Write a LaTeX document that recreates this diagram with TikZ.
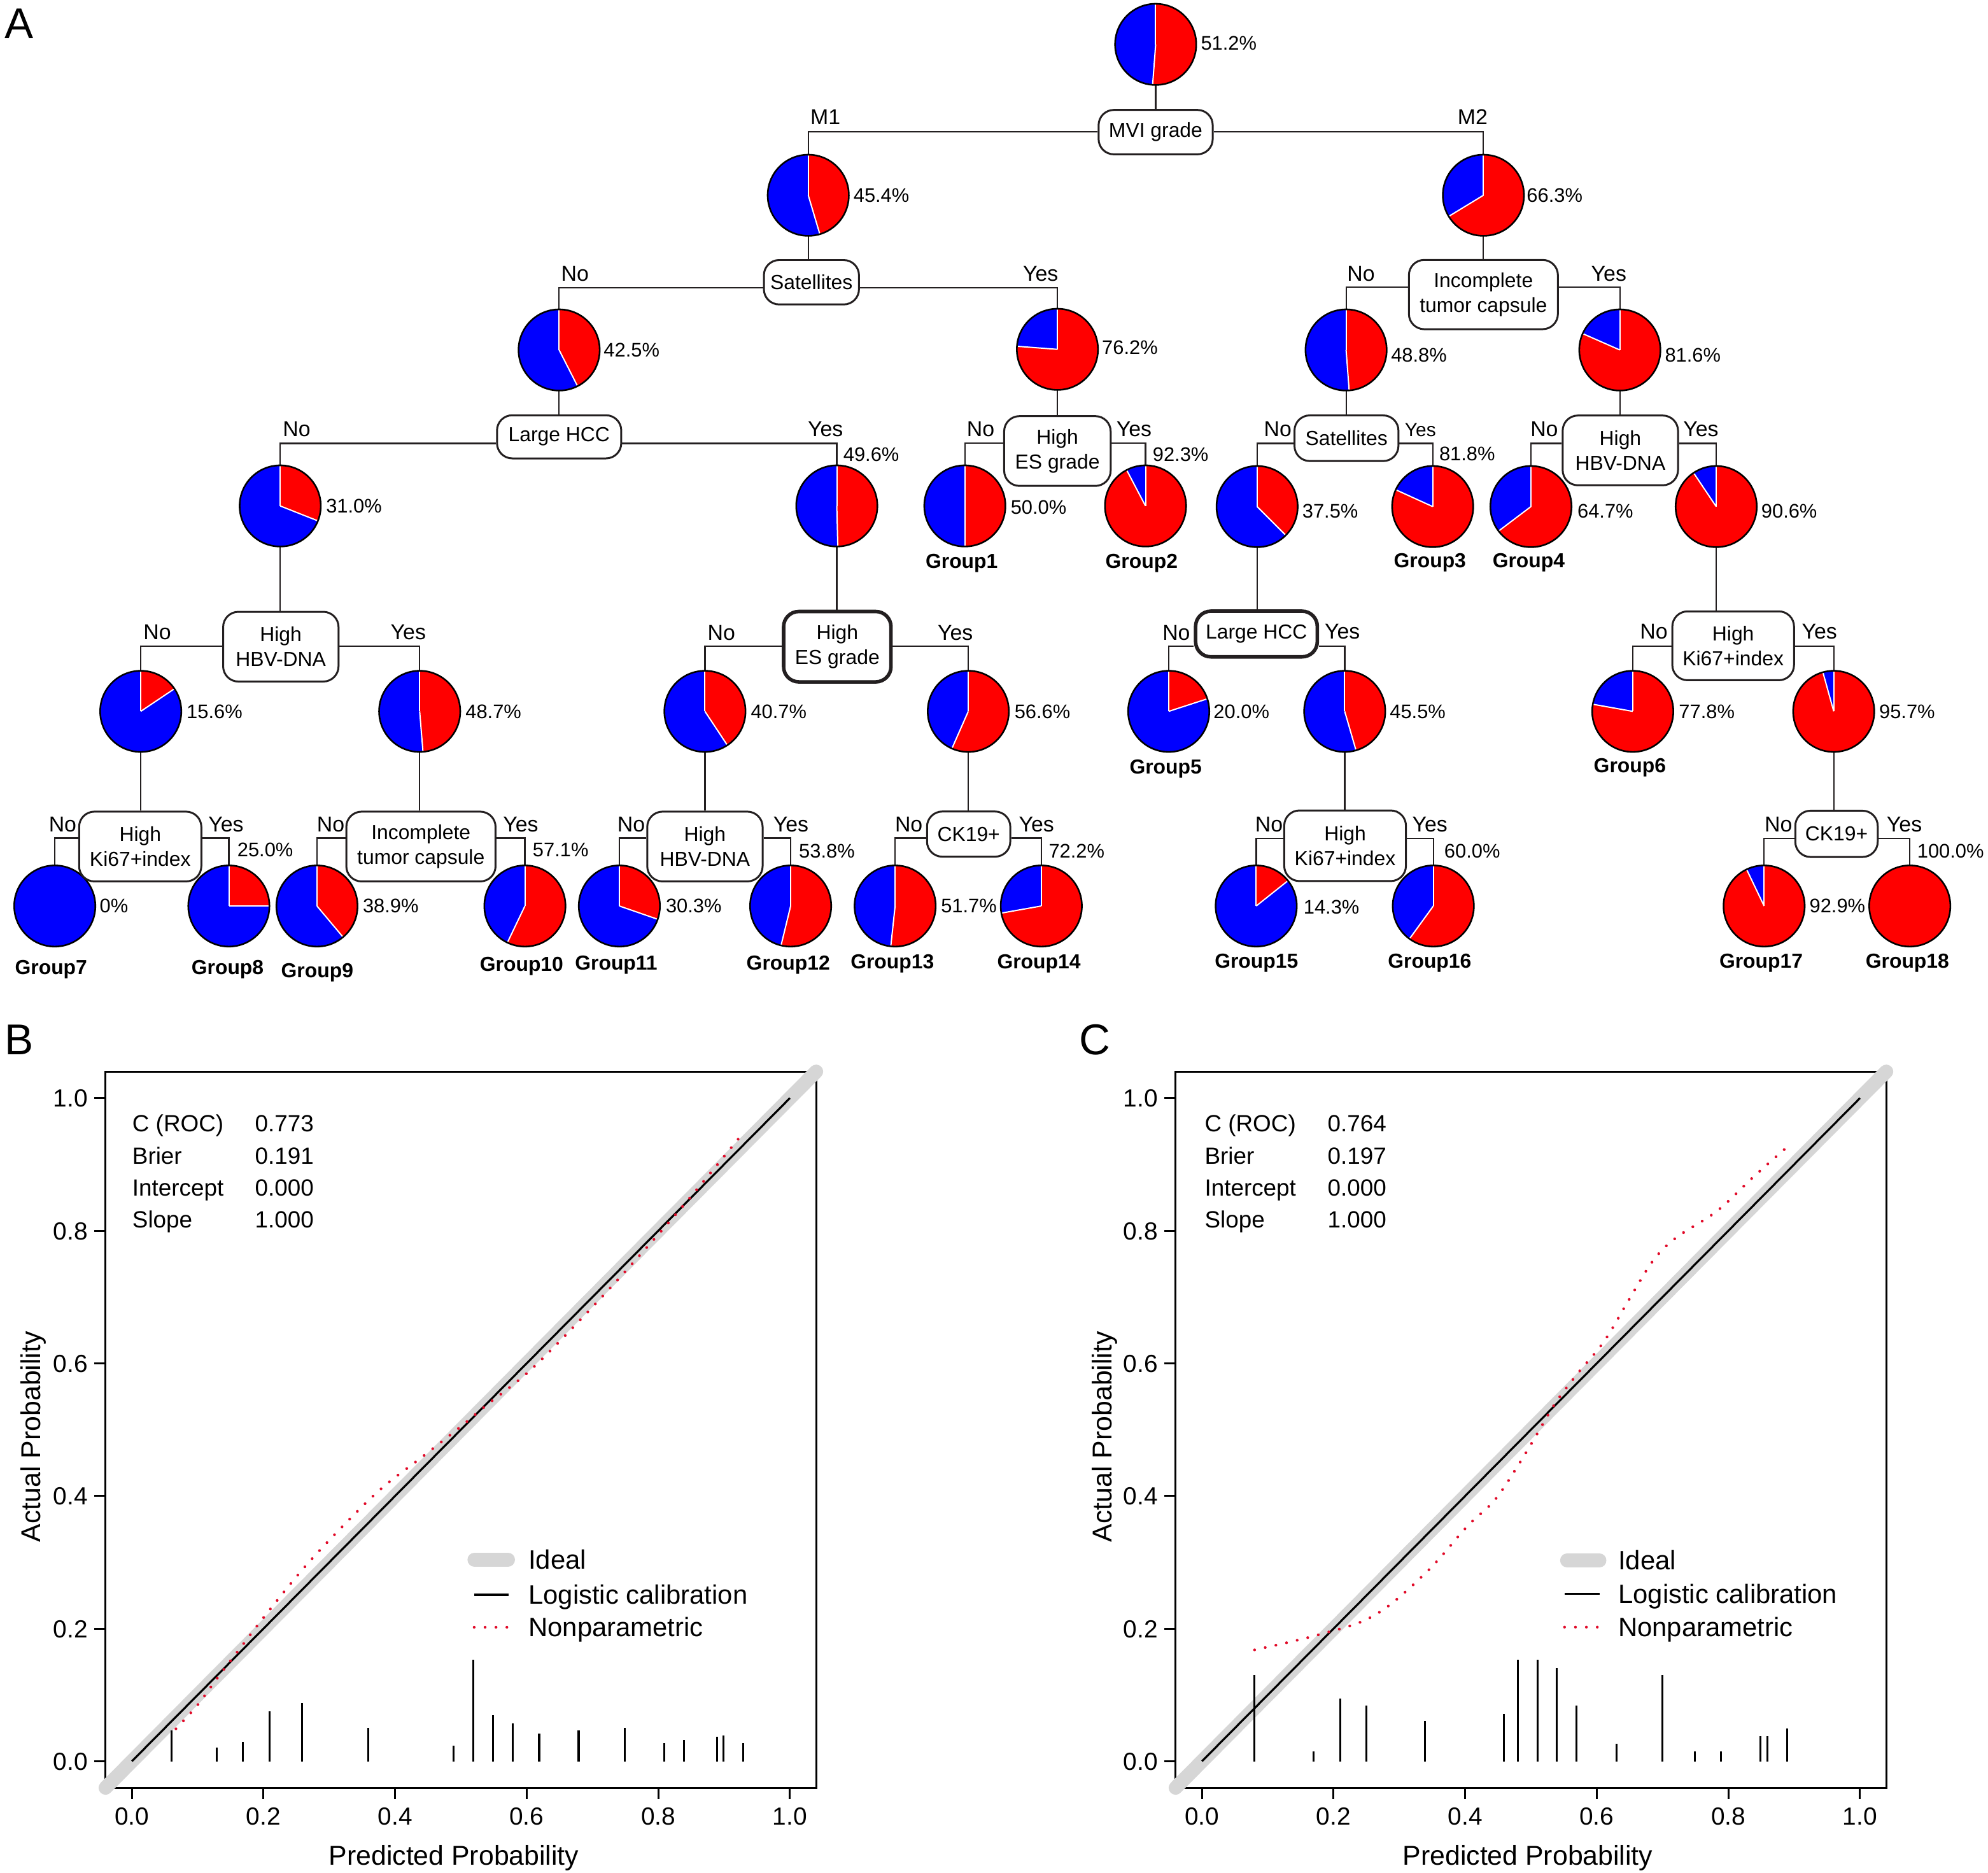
\documentclass[tikz,border=0pt]{standalone}
\usepackage{fontspec}
\setmainfont{Liberation Sans}
\pgfdeclarelayer{bg}
\pgfsetlayers{bg,main}
\definecolor{pieblue}{RGB}{0,0,255}
\definecolor{piered}{RGB}{255,0,0}
\definecolor{ink}{RGB}{35,31,32}
\definecolor{idealgray}{RGB}{214,214,214}
\definecolor{npred}{RGB}{225,10,40}

\tikzset{
  pienode/.style={circle, minimum size=64pt, inner sep=0pt},
  conn/.style={draw=ink, line width=1.1pt},
  dbox/.style={draw=ink, line width=1.5pt, fill=white, rounded corners=12pt, align=center, inner sep=0pt, font=\fontsize{16}{19.5}\selectfont},
  thickbox/.style={dbox, line width=2.8pt},
  pct/.style={font=\fontsize{15.5}{18}\selectfont, inner sep=0pt, text height=11.1pt, text depth=0pt},
  yn/.style={font=\fontsize{17}{20}\selectfont, inner sep=0pt, text height=12.2pt, text depth=0pt},
  ynsmall/.style={font=\fontsize{15}{18}\selectfont, inner sep=0pt, text height=10.7pt, text depth=0pt},
  grp/.style={font=\fontsize{16}{19}\selectfont\bfseries, inner sep=0pt, text height=11.5pt, text depth=0pt},
  ideal/.style={draw=idealgray, line width=11pt, line cap=round},
  logi/.style={draw=black, line width=1.6pt},
  nonpar/.style={draw=npred, line width=2.2pt, line cap=round, dash pattern=on 0pt off 8.6pt},
  spike/.style={draw=black, line width=1.6pt},
  axisln/.style={draw=black, line width=1.6pt},
  ticklab/.style={font=\fontsize{19.5}{22}\selectfont, inner sep=0pt, text height=14pt, text depth=0pt},
  stat/.style={font=\fontsize{18.5}{21}\selectfont, inner sep=0pt, text height=13.2pt, text depth=0pt, anchor=west},
  legtxt/.style={font=\fontsize{21}{24}\selectfont, inner sep=0pt, text height=15pt, text depth=0pt, anchor=west},
  axtitle/.style={font=\fontsize{21.5}{24}\selectfont, inner sep=0pt, text height=15.4pt, text depth=0pt},
  panel/.style={font=\fontsize{34}{38}\selectfont, inner sep=0pt, text height=24.4pt, text depth=0pt}
}

\newcommand{\mypie}[4]{%
  \node[pienode] (#1) at (#2,-#3) {};
  \fill[pieblue] (#1.center) circle[radius=32pt];
  \ifdim #4pt>0pt
    \fill[piered] (#1.center) -- ++(90:32pt) arc[start angle=90, end angle={90-3.6*#4}, radius=32pt] -- cycle;
    \ifdim #4pt<100pt
      \draw[white, line width=1pt] (#1.center) -- ++(90:31.5pt);
      \draw[white, line width=1pt] (#1.center) -- ++({90-3.6*#4}:31.5pt);
    \fi
  \fi
  \draw[black, line width=1.3pt] (#1.center) circle[radius=32pt];
}
\newcommand{\lab}[5]{\node[#2] (#1) at (#3,-#4) {#5};}

\begin{document}
\begin{tikzpicture}[x=1pt, y=1pt]
\useasboundingbox (0,0) rectangle (1568,-1477);

% ---------------- Panel letters
\lab{pA}{panel}{15}{18}{A}
\lab{pB}{panel}{15}{819.5}{B}
\lab{pC}{panel}{863.5}{819.5}{C}

% ---------------- Pies
\mypie{p0}{911.5}{35}{51.2}
\mypie{p1}{637.5}{154}{45.4}
\mypie{p2}{1170}{154}{66.3}
\mypie{p3}{441}{276}{42.5}
\mypie{p4}{834}{275.5}{76.2}
\mypie{p5}{1061.7}{276}{48.8}
\mypie{p6}{1277.6}{276}{81.6}
\mypie{p7}{221}{399}{31.0}
\mypie{p8}{660}{399}{49.6}
\mypie{g1}{761}{399}{50.0}
\mypie{g2}{903.5}{399}{92.3}
\mypie{p9}{991.5}{399.5}{37.5}
\mypie{g3}{1130}{399.5}{81.8}
\mypie{g4}{1207.5}{399.5}{64.7}
\mypie{p10}{1353.6}{399.5}{90.6}
\mypie{p11}{111}{561}{15.6}
\mypie{p12}{331}{561}{48.7}
\mypie{p13}{556}{561}{40.7}
\mypie{p14}{763.7}{561}{56.6}
\mypie{g5}{921.8}{561}{20.0}
\mypie{p15}{1060.6}{561}{45.5}
\mypie{g6}{1287.8}{561}{77.8}
\mypie{p16}{1446.3}{561}{95.7}
\mypie{g7}{43.2}{714.5}{0}
\mypie{g8}{180.5}{714.5}{25.0}
\mypie{g9}{250}{714.5}{38.9}
\mypie{g10}{414}{714.5}{57.1}
\mypie{g11}{488.5}{714.5}{30.3}
\mypie{g12}{623.6}{714.5}{53.8}
\mypie{g13}{706}{714.5}{51.7}
\mypie{g14}{821.3}{714.5}{72.2}
\mypie{g15}{990.8}{714.5}{14.3}
\mypie{g16}{1130.5}{714.5}{60.0}
\mypie{g17}{1391.4}{714.5}{92.9}
\mypie{g18}{1506.3}{714.5}{100}

% ---------------- Boxes
\node[dbox, minimum width=90pt, minimum height=35pt] (b1) at (911.5,-104.2) {MVI grade};
\node[dbox, minimum width=75pt, minimum height=35pt] (b2) at (640,-222.6) {Satellites};
\node[dbox, minimum width=117.5pt, minimum height=54.6pt] (b3) at (1170,-232.3) {Incomplete\\tumor capsule};
\node[dbox, minimum width=98pt, minimum height=34pt] (b4) at (441,-344.5) {Large HCC};
\node[dbox, minimum width=84pt, minimum height=55pt] (b5) at (834,-355.7) {High\\ES grade};
\node[dbox, minimum width=82pt, minimum height=36pt] (b6) at (1062,-345.6) {Satellites};
\node[dbox, minimum width=91pt, minimum height=55pt] (b7) at (1278,-355.2) {High\\HBV-DNA};
\node[dbox, minimum width=91pt, minimum height=55pt] (b8) at (221.5,-510) {High\\HBV-DNA};
\node[thickbox, minimum width=84.7pt, minimum height=55.5pt] (b9) at (660.4,-510) {High\\ES grade};
\node[thickbox, minimum width=96pt, minimum height=36pt] (b10) at (991,-500) {Large HCC};
\node[dbox, minimum width=96pt, minimum height=54.3pt] (b11) at (1367,-509.3) {High\\Ki67+index};
\node[dbox, minimum width=96.4pt, minimum height=55pt] (b12) at (110.6,-667.6) {High\\Ki67+index};
\node[dbox, minimum width=117.7pt, minimum height=55pt] (b13) at (332,-667.6) {Incomplete\\tumor capsule};
\node[dbox, minimum width=91pt, minimum height=55pt] (b14) at (556,-667.6) {High\\HBV-DNA};
\node[dbox, minimum width=65.7pt, minimum height=35.6pt] (b15) at (764,-657.8) {CK19+};
\node[dbox, minimum width=96pt, minimum height=55.7pt] (b16) at (1060.9,-667) {High\\Ki67+index};
\node[dbox, minimum width=65pt, minimum height=36.5pt] (b17) at (1448.5,-657.6) {CK19+};

% ---------------- Connectors
\begin{pgfonlayer}{bg}
\draw[conn] (p0.south) -- (p0.south |- b1.north);
\draw[conn] (b1.west |- 0,-103.8) -| (p1.north);
\draw[conn] (b1.east |- 0,-103.8) -| (p2.north);
\draw[conn] (p1.south) -- (p1.south |- b2.north);
\draw[conn] (b2.west |- 0,-226.8) -| (p3.north);
\draw[conn] (b2.east |- 0,-226.8) -| (p4.north);
\draw[conn] (p2.south) -- (p2.south |- b3.north);
\draw[conn] (b3.west |- 0,-226.6) -| (p5.north);
\draw[conn] (b3.east |- 0,-226.6) -| (p6.north);
\draw[conn] (p3.south) -- (p3.south |- b4.north);
\draw[conn] (b4.west |- 0,-349.7) -| (p7.north);
\draw[conn] (b4.east |- 0,-349.7) -| (p8.north);
\draw[conn] (p4.south) -- (p4.south |- b5.north);
\draw[conn] (b5.west |- 0,-349.5) -| (g1.north);
\draw[conn] (b5.east |- 0,-349.5) -| (g2.north);
\draw[conn] (p5.south) -- (p5.south |- b6.north);
\draw[conn] (b6.west |- 0,-349.7) -| (p9.north);
\draw[conn] (b6.east |- 0,-349.7) -| (g3.north);
\draw[conn] (p6.south) -- (p6.south |- b7.north);
\draw[conn] (b7.west |- 0,-349.7) -| (g4.north);
\draw[conn] (b7.east |- 0,-349.7) -| (p10.north);
\draw[conn] (p7.south) -- (p7.south |- b8.north);
\draw[conn] (b8.west |- 0,-509.5) -| (p11.north);
\draw[conn] (b8.east |- 0,-509.5) -| (p12.north);
\draw[conn] (p8.south) -- (p8.south |- b9.north);
\draw[conn] (b9.west |- 0,-509.5) -| (p13.north);
\draw[conn] (b9.east |- 0,-509.5) -| (p14.north);
\draw[conn] (p9.south) -- (p9.south |- b10.north);
\draw[conn] (b10.west |- 0,-509.5) -| (g5.north);
\draw[conn] (b10.east |- 0,-509.5) -| (p15.north);
\draw[conn] (p10.south) -- (p10.south |- b11.north);
\draw[conn] (b11.west |- 0,-509.7) -| (g6.north);
\draw[conn] (b11.east |- 0,-509.7) -| (p16.north);
\draw[conn] (p11.south) -- (p11.south |- b12.north);
\draw[conn] (b12.west |- 0,-661) -| (g7.north);
\draw[conn] (b12.east |- 0,-661) -| (g8.north);
\draw[conn] (p12.south) -- (p12.south |- b13.north);
\draw[conn] (b13.west |- 0,-661) -| (g9.north);
\draw[conn] (b13.east |- 0,-661) -| (g10.north);
\draw[conn] (p13.south) -- (p13.south |- b14.north);
\draw[conn] (b14.west |- 0,-661) -| (g11.north);
\draw[conn] (b14.east |- 0,-661) -| (g12.north);
\draw[conn] (p14.south) -- (p14.south |- b15.north);
\draw[conn] (b15.west |- 0,-661) -| (g13.north);
\draw[conn] (b15.east |- 0,-661) -| (g14.north);
\draw[conn] (p15.south) -- (p15.south |- b16.north);
\draw[conn] (b16.west |- 0,-661.4) -| (g15.north);
\draw[conn] (b16.east |- 0,-661.4) -| (g16.north);
\draw[conn] (p16.south) -- (p16.south |- b17.north);
\draw[conn] (b17.west |- 0,-661.4) -| (g17.north);
\draw[conn] (b17.east |- 0,-661.4) -| (g18.north);
\end{pgfonlayer}

% ---------------- Percentages
\lab{l0}{pct,anchor=west}{947}{34}{51.2\%}
\lab{l1}{pct,anchor=west}{673}{154}{45.4\%}
\lab{l2}{pct,anchor=west}{1204}{154}{66.3\%}
\lab{l3}{pct,anchor=west}{476}{276}{42.5\%}
\lab{l4}{pct,anchor=west}{869}{274}{76.2\%}
\lab{l5}{pct,anchor=west}{1097}{280}{48.8\%}
\lab{l6}{pct,anchor=west}{1313}{280}{81.6\%}
\lab{l7}{pct,anchor=west}{257}{399}{31.0\%}
\lab{l8}{pct,anchor=west}{665}{358}{49.6\%}
\lab{lg1}{pct,anchor=west}{797}{400}{50.0\%}
\lab{lg2}{pct,anchor=west}{909}{358}{92.3\%}
\lab{l9}{pct,anchor=west}{1027}{403}{37.5\%}
\lab{lg3}{pct,anchor=west}{1135}{357.5}{81.8\%}
\lab{lg4}{pct,anchor=west}{1244}{403}{64.7\%}
\lab{l10}{pct,anchor=west}{1389}{403}{90.6\%}
\lab{l11}{pct,anchor=west}{147}{561}{15.6\%}
\lab{l12}{pct,anchor=west}{367}{561}{48.7\%}
\lab{l13}{pct,anchor=west}{592}{561}{40.7\%}
\lab{l14}{pct,anchor=west}{800}{561}{56.6\%}
\lab{lg5}{pct,anchor=west}{957}{561}{20.0\%}
\lab{l15}{pct,anchor=west}{1096}{561}{45.5\%}
\lab{lg6}{pct,anchor=west}{1324}{561}{77.8\%}
\lab{l16}{pct,anchor=west}{1482}{561}{95.7\%}
\lab{lg7}{pct,anchor=west}{78.5}{714}{0\%}
\lab{lg8}{pct,anchor=west}{187}{670}{25.0\%}
\lab{lg9}{pct,anchor=west}{286}{714}{38.9\%}
\lab{lg10}{pct,anchor=west}{420}{670}{57.1\%}
\lab{lg11}{pct,anchor=west}{525}{714}{30.3\%}
\lab{lg12}{pct,anchor=west}{630}{671}{53.8\%}
\lab{lg13}{pct,anchor=west}{742}{714}{51.7\%}
\lab{lg14}{pct,anchor=west}{827}{671}{72.2\%}
\lab{lg15}{pct,anchor=west}{1028}{715}{14.3\%}
\lab{lg16}{pct,anchor=west}{1139}{671}{60.0\%}
\lab{lg17}{pct,anchor=west}{1427}{714}{92.9\%}
\lab{lg18}{pct,anchor=west}{1512}{671}{100.0\%}

% ---------------- Group labels
\lab{n1}{grp}{758.5}{442.3}{Group1}
\lab{n2}{grp}{900.4}{442.3}{Group2}
\lab{n3}{grp}{1127.8}{442.1}{Group3}
\lab{n4}{grp}{1205.7}{442.1}{Group4}
\lab{n5}{grp}{919.4}{604.4}{Group5}
\lab{n6}{grp}{1285.5}{603.7}{Group6}
\lab{n7}{grp}{40.3}{762.5}{Group7}
\lab{n8}{grp}{179.5}{762.5}{Group8}
\lab{n9}{grp}{250.2}{765}{Group9}
\lab{n10}{grp}{411.4}{760}{Group10}
\lab{n11}{grp}{486}{759.1}{Group11}
\lab{n12}{grp}{621.7}{759.1}{Group12}
\lab{n13}{grp}{703.8}{758.3}{Group13}
\lab{n14}{grp}{819.4}{758.3}{Group14}
\lab{n15}{grp}{991}{757.5}{Group15}
\lab{n16}{grp}{1127.6}{757.5}{Group16}
\lab{n17}{grp}{1389}{757.5}{Group17}
\lab{n18}{grp}{1504.4}{757.5}{Group18}

% ---------------- Branch labels
\lab{m1}{yn}{651}{92}{M1}
\lab{m2}{yn}{1161.5}{92}{M2}
\lab{y1}{yn}{453.5}{215.6}{No}
\lab{y2}{yn}{820.7}{215.6}{Yes}
\lab{y3}{yn}{1073.5}{215.6}{No}
\lab{y4}{yn}{1268.9}{215.6}{Yes}
\lab{y5}{yn}{234}{338}{No}
\lab{y6}{yn}{651}{338}{Yes}
\lab{y7}{yn}{773.5}{338}{No}
\lab{y8}{yn}{894.4}{338}{Yes}
\lab{y9}{yn}{1007.8}{338}{No}
\lab{y10}{ynsmall}{1120.3}{339}{Yes}
\lab{y11}{yn}{1218}{338}{No}
\lab{y12}{yn}{1341.5}{338}{Yes}
\lab{y13}{yn}{124}{498}{No}
\lab{y14}{yn}{322}{498}{Yes}
\lab{y15}{yn}{569}{498.6}{No}
\lab{y16}{yn}{753.5}{498.6}{Yes}
\lab{y17}{yn}{927.8}{498.6}{No}
\lab{y18}{yn}{1058.7}{497.8}{Yes}
\lab{y19}{yn}{1304.4}{497.8}{No}
\lab{y20}{yn}{1435}{497.8}{Yes}
\lab{y21}{yn}{49.4}{650}{No}
\lab{y22}{yn}{178.2}{650}{Yes}
\lab{y23}{yn}{260.8}{650}{No}
\lab{y24}{yn}{410.7}{650}{Yes}
\lab{y25}{yn}{497.8}{650}{No}
\lab{y26}{yn}{623.8}{650}{Yes}
\lab{y27}{yn}{716.8}{650}{No}
\lab{y28}{yn}{817.5}{650}{Yes}
\lab{y29}{yn}{1000.9}{650}{No}
\lab{y30}{yn}{1127.8}{650}{Yes}
\lab{y31}{yn}{1402.7}{650}{No}
\lab{y32}{yn}{1502}{650}{Yes}

% ================= Panel B
\begin{scope}[shift={(104pt,-1389pt)}, x=519pt, y=523pt]
  \draw[axisln] (-0.04,-0.04) rectangle (1.04,1.04);
  \foreach \v/\t [count=\i] in {0/0.0,0.2/0.2,0.4/0.4,0.6/0.6,0.8/0.8,1/1.0} {
    \draw[axisln] (\v,-0.04) -- ++(0pt,-9pt);
    \node[ticklab] (bx\i) at ([yshift=-43pt]\v,0) {\t};
    \draw[axisln] (-0.04,\v) -- ++(-9pt,0pt);
    \node[ticklab, anchor=east] (by\i) at ([xshift=-34.7pt]0,\v) {\t};
  }
  \draw[ideal] (-0.04,-0.04) -- (1.04,1.04);
  \draw[logi] (0,0) -- (1,1);
  \draw[nonpar] plot[smooth, tension=0.6] coordinates {(0.067,0.049) (0.10,0.085) (0.128,0.123) (0.165,0.171) (0.202,0.219) (0.261,0.291) (0.321,0.355) (0.380,0.412) (0.440,0.458) (0.499,0.504) (0.539,0.537) (0.608,0.592) (0.70,0.685) (0.78,0.772) (0.85,0.852) (0.927,0.945)};
  \foreach \a/\h in {0.060/0.047,0.129/0.021,0.169/0.029,0.2095/0.075,0.259/0.088,0.359/0.050,0.489/0.024,0.519/0.153,0.549/0.070,0.579/0.057,0.619/0.042,0.679/0.047,0.749/0.050,0.809/0.027,0.839/0.032,0.889/0.037,0.899/0.039,0.929/0.027}
    \draw[spike] (\a,0) -- (\a,\h);
  \node[stat] (bs1) at (0.2pt,503pt) {C (ROC)};
  \node[stat] (bs2) at (0.2pt,477.8pt) {Brier};
  \node[stat] (bs3) at (0.2pt,452.6pt) {Intercept};
  \node[stat] (bs4) at (0.2pt,427.4pt) {Slope};
  \node[stat] (bv1) at (97pt,503pt) {0.773};
  \node[stat] (bv2) at (97pt,477.8pt) {0.191};
  \node[stat] (bv3) at (97pt,452.6pt) {0.000};
  \node[stat] (bv4) at (97pt,427.4pt) {1.000};
  \coordinate (bl1a) at (270.2pt,159pt); \coordinate (bl1b) at (296.7pt,159pt);
  \coordinate (bl2a) at (270pt,131.3pt); \coordinate (bl2b) at (297.4pt,131.3pt);
  \coordinate (bl3a) at (270pt,105.7pt); \coordinate (bl3b) at (297pt,105.7pt);
  \draw[ideal] (bl1a) -- (bl1b);
  \draw[logi] (bl2a) -- (bl2b);
  \draw[nonpar] (bl3a) -- (bl3b);
  \node[legtxt] (bt1) at (312.7pt,159pt) {Ideal};
  \node[legtxt] (bt2) at (312.7pt,131.3pt) {Logistic calibration};
  \node[legtxt] (bt3) at (312.7pt,105.7pt) {Nonparametric};
  \node[axtitle] (bxt) at (254pt,-74pt) {Predicted Probability};
  \node[axtitle, rotate=90] (byt) at (-80pt,256pt) {Actual Probability};
\end{scope}

% ================= Panel C
\begin{scope}[shift={(948pt,-1389pt)}, x=519pt, y=523pt]
  \draw[axisln] (-0.04,-0.04) rectangle (1.04,1.04);
  \foreach \v/\t [count=\i] in {0/0.0,0.2/0.2,0.4/0.4,0.6/0.6,0.8/0.8,1/1.0} {
    \draw[axisln] (\v,-0.04) -- ++(0pt,-9pt);
    \node[ticklab] (cx\i) at ([yshift=-43pt]\v,0) {\t};
    \draw[axisln] (-0.04,\v) -- ++(-9pt,0pt);
    \node[ticklab, anchor=east] (cy\i) at ([xshift=-34.7pt]0,\v) {\t};
  }
  \draw[ideal] (-0.04,-0.04) -- (1.04,1.04);
  \draw[logi] (0,0) -- (1,1);
  \draw[nonpar] plot[smooth, tension=0.6] coordinates {(0.080,0.168) (0.178,0.191) (0.262,0.220) (0.340,0.284) (0.403,0.354) (0.445,0.394) (0.481,0.447) (0.509,0.493) (0.537,0.540) (0.572,0.586) (0.611,0.633) (0.649,0.696) (0.685,0.754) (0.720,0.789) (0.783,0.830) (0.839,0.882) (0.889,0.926)};
  \foreach \a/\h in {0.080/0.130,0.170/0.015,0.210/0.095,0.250/0.084,0.339/0.061,0.459/0.072,0.480/0.153,0.510/0.153,0.539/0.141,0.569/0.084,0.630/0.026,0.700/0.130,0.749/0.015,0.789/0.015,0.849/0.038,0.859/0.038,0.889/0.049}
    \draw[spike] (\a,0) -- (\a,\h);
  \node[stat] (cs1) at (2pt,503pt) {C (ROC)};
  \node[stat] (cs2) at (2pt,477.8pt) {Brier};
  \node[stat] (cs3) at (2pt,452.6pt) {Intercept};
  \node[stat] (cs4) at (2pt,427.4pt) {Slope};
  \node[stat] (cv1) at (99pt,503pt) {0.764};
  \node[stat] (cv2) at (99pt,477.8pt) {0.197};
  \node[stat] (cv3) at (99pt,452.6pt) {0.000};
  \node[stat] (cv4) at (99pt,427.4pt) {1.000};
  \coordinate (cl1a) at (288pt,158.4pt); \coordinate (cl1b) at (313.5pt,158.4pt);
  \coordinate (cl2a) at (286pt,132pt); \coordinate (cl2b) at (313.5pt,132pt);
  \coordinate (cl3a) at (286pt,105.8pt); \coordinate (cl3b) at (313pt,105.8pt);
  \draw[ideal] (cl1a) -- (cl1b);
  \draw[logi] (cl2a) -- (cl2b);
  \draw[nonpar] (cl3a) -- (cl3b);
  \node[legtxt] (ct1) at (328.2pt,158.4pt) {Ideal};
  \node[legtxt] (ct2) at (328.2pt,132pt) {Logistic calibration};
  \node[legtxt] (ct3) at (328.2pt,105.8pt) {Nonparametric};
  \node[axtitle] (cxt) at (257pt,-74pt) {Predicted Probability};
  \node[axtitle, rotate=90] (cyt) at (-79pt,256pt) {Actual Probability};
\end{scope}
\end{tikzpicture}
\end{document}
